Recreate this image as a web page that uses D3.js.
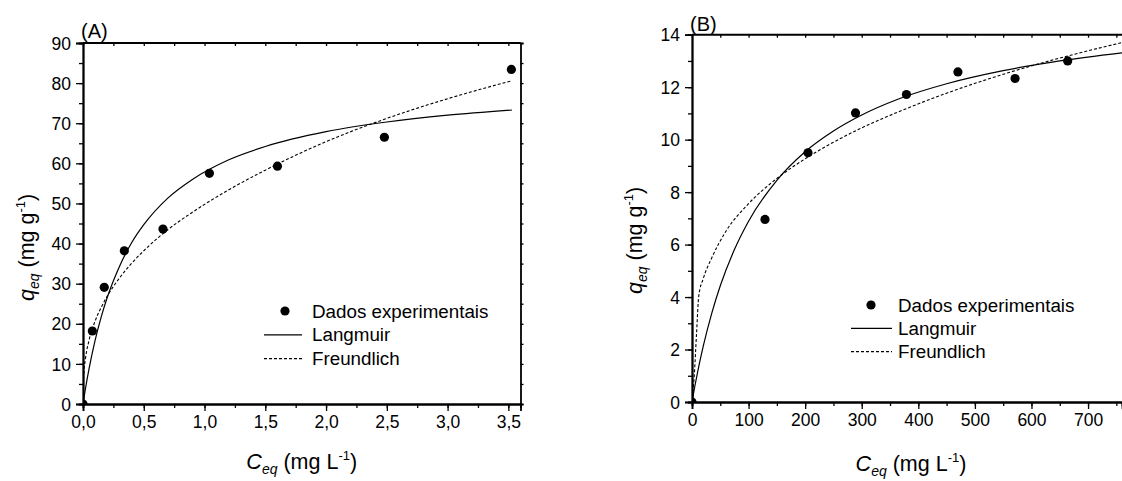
<!DOCTYPE html>
<html><head><meta charset="utf-8">
<script src="https://cdn.jsdelivr.net/npm/d3@7"></script>
<style>
body{margin:0;background:#fff;}
svg text{font-family:"Liberation Sans",Arial,sans-serif;fill:#000;}
</style></head>
<body><svg id="c" width="1122" height="481"></svg>
<script>
// ---------- Panel A data ----------
const expA_C = [0, 0.077, 0.175, 0.34, 0.658, 1.04, 1.6, 2.48, 3.525];
const expA_q = [0, 18.2, 29.1, 38.2, 43.6, 57.5, 59.3, 66.5, 83.4];
const langA_C = [0, 0.02, 0.05, 0.1, 0.15, 0.2, 0.3, 0.4, 0.5, 0.7, 0.9, 1.2, 1.5, 2.0, 2.5, 3.0, 3.53];
const langA_q = [0, 3.8, 8.8, 15.9, 21.7, 26.6, 34.3, 40.2, 44.7, 51.4, 56.0, 60.9, 64.2, 67.9, 70.3, 72.0, 73.3];
const freuA_C = [0, 0.005, 0.02, 0.05, 0.1, 0.15, 0.2, 0.3, 0.4, 0.5, 0.7, 0.9, 1.2, 1.5, 2.0, 2.5, 3.0, 3.53];
const freuA_q = [0, 6.6, 11.2, 15.9, 20.7, 24.1, 26.9, 31.4, 35.1, 38.2, 43.5, 47.8, 53.4, 58.3, 65.4, 71.2, 76.1, 80.6];
const xTicksA = [0, 0.5, 1.0, 1.5, 2.0, 2.5, 3.0, 3.5];
const xTickLabelsA = ["0,0", "0,5", "1,0", "1,5", "2,0", "2,5", "3,0", "3,5"];
const yTicksA = [0, 10, 20, 30, 40, 50, 60, 70, 80, 90];

// ---------- Panel B data ----------
const expB_C = [0, 129, 205, 289, 379, 470, 571, 664];
const expB_q = [0, 6.96, 9.5, 11.02, 11.72, 12.58, 12.33, 13.0];
const langB_C = [0, 5, 10, 20, 35, 50, 75, 100, 150, 200, 250, 300, 365, 450, 550, 650, 760];
const langB_q = [0, 0.6, 1.15, 2.14, 3.39, 4.43, 5.81, 6.89, 8.45, 9.54, 10.33, 10.94, 11.55, 12.13, 12.63, 13.0, 13.31];
const freuB_C = [0, 4, 8, 12, 20, 35, 60, 100, 150, 200, 250, 300, 365, 450, 550, 650, 760];
const freuB_q = [0, 1.0, 2.6, 4.05, 4.71, 5.5, 6.51, 7.56, 8.52, 9.27, 9.9, 10.45, 11.06, 11.77, 12.49, 13.11, 13.7];
const xTicksB = [0, 100, 200, 300, 400, 500, 600, 700];
const yTicksB = [0, 2, 4, 6, 8, 10, 12, 14];

const legendLabels = ["Dados experimentais", "Langmuir", "Freundlich"];

const svg = d3.select("#c");
const zip = (a, b) => a.map((v, i) => [v, b[i]]);

function panel(cfg) {
  const x = d3.scaleLinear().domain(cfg.xDom).range([cfg.left, cfg.right]);
  const y = d3.scaleLinear().domain(cfg.yDom).range([cfg.bottom, cfg.top]);
  const g = svg.append("g");
  const clipId = "clip" + cfg.id;
  svg.append("clipPath").attr("id", clipId).append("rect")
    .attr("x", cfg.left).attr("y", cfg.top)
    .attr("width", cfg.right - cfg.left).attr("height", cfg.bottom - cfg.top);

  const plot = g.append("g").attr("clip-path", `url(#${clipId})`);
  const line = d3.line().x(d => x(d[0])).y(d => y(d[1])).curve(d3.curveMonotoneX);
  plot.append("path").datum(zip(cfg.langC, cfg.langQ)).attr("d", line)
    .attr("fill", "none").attr("stroke", "#000").attr("stroke-width", 1.2);
  plot.append("path").datum(zip(cfg.freuC, cfg.freuQ)).attr("d", line)
    .attr("fill", "none").attr("stroke", "#000").attr("stroke-width", 1.1)
    .attr("stroke-dasharray", "3,2");
  plot.selectAll("circle").data(zip(cfg.expC, cfg.expQ)).enter().append("circle")
    .attr("cx", d => x(d[0])).attr("cy", d => y(d[1])).attr("r", 4.6).attr("fill", "#000");

  // axes
  const fs = "17.5px";
  const xMinor = d3.range(cfg.xDom[0], cfg.xDom[1] + 1e-9, cfg.xMinorStep);
  const yMinor = d3.range(cfg.yDom[0], cfg.yDom[1] + 1e-9, cfg.yMinorStep);
  const bottomAx = d3.axisBottom(x).tickValues(cfg.xTicks).tickSize(7).tickPadding(5)
    .tickFormat((d, i) => cfg.xLabels[i]);
  const ga = g.append("g").attr("transform", `translate(0,${cfg.bottom})`).call(bottomAx);
  ga.selectAll("text").style("font-size", fs);
  g.append("g").attr("transform", `translate(0,${cfg.bottom})`)
    .call(d3.axisBottom(x).tickValues(xMinor).tickSize(4).tickFormat(""));
  const leftAx = d3.axisLeft(y).tickValues(cfg.yTicks).tickSize(7).tickPadding(5);
  const gl = g.append("g").attr("transform", `translate(${cfg.left},0)`).call(leftAx);
  gl.selectAll("text").style("font-size", fs).attr("dy", "0.35em");
  g.append("g").attr("transform", `translate(${cfg.left},0)`)
    .call(d3.axisLeft(y).tickValues(yMinor).tickSize(4).tickFormat(""));
  // top axis with small inward ticks
  g.append("g").attr("transform", `translate(0,${cfg.top})`)
    .call(d3.axisBottom(x).tickValues(xMinor).tickSize(3).tickFormat(""));
  g.append("line").attr("x1", cfg.left).attr("x2", cfg.right).attr("y1", cfg.top).attr("y2", cfg.top);
  if (cfg.rightAxis) {
    g.append("g").attr("transform", `translate(${cfg.right},0)`)
      .call(d3.axisRight(y).tickValues(yMinor).tickSize(3).tickFormat(""));
  }
  g.selectAll(".domain, line").attr("stroke", "#000").attr("stroke-width", 1.6);
  g.selectAll(".domain").attr("stroke-width", 1.8);
  g.selectAll("g.tick line").attr("stroke-width", 1.3);
  g.selectAll(".domain").filter(function(){return this.parentNode.getAttribute("transform") === `translate(0,${cfg.top})`;})
    .attr("d", `M${cfg.left},${cfg.top}H${cfg.right}`).attr("transform", `translate(0,${-cfg.top})`);

  // axis titles
  const xt = g.append("text").attr("x", (cfg.left + cfg.right) / 2 + cfg.xTitleDx).attr("y", cfg.xTitleY)
    .attr("text-anchor", "middle").style("font-size", "21.5px");
  xt.append("tspan").text("C").style("font-style", "italic");
  xt.append("tspan").text("eq").style("font-style", "italic").style("font-size", "14px").attr("dy", 5);
  xt.append("tspan").text(" (mg L").attr("dy", -5);
  xt.append("tspan").text("-1").style("font-size", "13px").attr("dy", -9);
  xt.append("tspan").text(")").attr("dy", 9);

  const yt = g.append("text").attr("transform", `translate(${cfg.yTitleX},${cfg.yTitleY}) rotate(-90)`)
    .attr("text-anchor", "start").style("font-size", "21.5px");
  yt.append("tspan").text("q").style("font-style", "italic");
  yt.append("tspan").text("eq").style("font-style", "italic").style("font-size", "14px").attr("dy", 5);
  yt.append("tspan").text(" (mg g").attr("dy", -5);
  yt.append("tspan").text("-1").style("font-size", "13px").attr("dy", -9);
  yt.append("tspan").text(")").attr("dy", 9);

  // panel label
  g.append("text").attr("x", cfg.labelX).attr("y", cfg.labelY).style("font-size", "20px").text(cfg.label);

  // legend
  const L = cfg.legend;
  g.append("circle").attr("cx", L.markX).attr("cy", L.y0).attr("r", 4.6).attr("fill", "#000");
  g.append("line").attr("x1", L.lx1).attr("x2", L.lx2).attr("y1", L.y0 + L.dy).attr("y2", L.y0 + L.dy)
    .attr("stroke", "#000").attr("stroke-width", 1.2);
  g.append("line").attr("x1", L.lx1).attr("x2", L.lx2).attr("y1", L.y0 + 2 * L.dy).attr("y2", L.y0 + 2 * L.dy)
    .attr("stroke", "#000").attr("stroke-width", 1.1).attr("stroke-dasharray", "3,2");
  legendLabels.forEach((t, i) => {
    g.append("text").attr("x", L.tx).attr("y", L.y0 + i * L.dy).attr("dy", "0.35em")
      .style("font-size", "18.8px").text(t);
  });
}

panel({
  id: "A", xDom: [0, 3.6], yDom: [0, 90], left: 83, right: 520.5, top: 43, bottom: 404,
  xTicks: xTicksA, xLabels: xTickLabelsA, yTicks: yTicksA, xMinorStep: 0.25, yMinorStep: 5,
  expC: expA_C, expQ: expA_q, langC: langA_C, langQ: langA_q, freuC: freuA_C, freuQ: freuA_q,
  rightAxis: true, xTitleY: 469, xTitleDx: 0, yTitleX: 34, yTitleY: 301,
  label: "(A)", labelX: 81, labelY: 38,
  legend: { markX: 285, lx1: 264, lx2: 302, tx: 312, y0: 311, dy: 23.8 }
});

panel({
  id: "B", xDom: [0, 760], yDom: [0, 14], left: 692, right: 1122, top: 34.7, bottom: 402,
  xTicks: xTicksB, xLabels: xTicksB.map(String), yTicks: yTicksB, xMinorStep: 50, yMinorStep: 1,
  expC: expB_C, expQ: expB_q, langC: langB_C, langQ: langB_q, freuC: freuB_C, freuQ: freuB_q,
  rightAxis: false, xTitleY: 471, xTitleDx: 4, yTitleX: 642, yTitleY: 294,
  label: "(B)", labelX: 690, labelY: 31,
  legend: { markX: 871, lx1: 851, lx2: 892, tx: 898, y0: 305, dy: 23.3 }
});
</script></body></html>
